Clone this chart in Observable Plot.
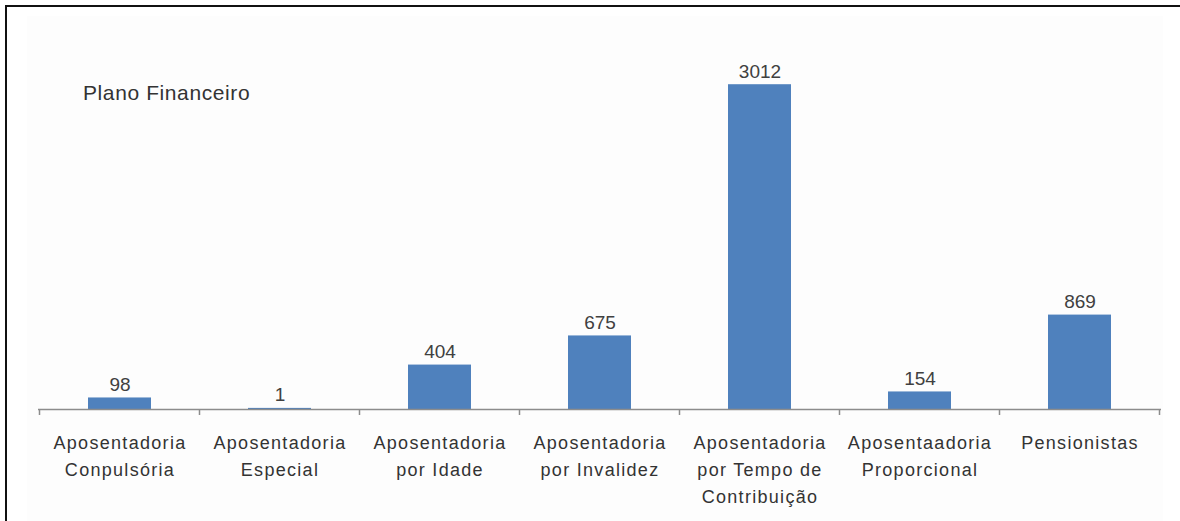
<!DOCTYPE html>
<html><head><meta charset="utf-8">
<script src="https://cdn.jsdelivr.net/npm/d3@7"></script>
<script src="https://cdn.jsdelivr.net/npm/@observablehq/plot@0.6"></script>
<style>
html,body{margin:0;padding:0;background:#fff;}
#wrap{position:relative;width:1180px;height:521px;overflow:hidden;font-family:"Liberation Sans",Arial,sans-serif;}
#panel{position:absolute;left:27px;top:16px;width:1136px;height:505px;background:#fdfdfd;}
#frame{position:absolute;left:5px;top:5px;width:1200px;height:540px;border-left:2px solid #111;border-top:2px solid #111;}
#title{position:absolute;left:83px;top:82px;font-size:21px;line-height:21px;color:#333;letter-spacing:0.6px;white-space:nowrap;}
#chart{position:absolute;left:0;top:0;}
.bars [aria-label="x-axis tick label"] text{letter-spacing:1.3px;}
</style>
</head><body>
<div id="wrap">
  <div id="panel"></div>
  <div id="frame"></div>
  <div id="chart"></div>
  <div id="title">Plano Financeiro</div>
</div>
<script>
const categories = [
  "Aposentadoria\nConpulsória",
  "Aposentadoria\nEspecial",
  "Aposentadoria\npor Idade",
  "Aposentadoria\npor Invalidez",
  "Aposentadoria\npor Tempo de\nContribuição",
  "Aposentaadoria\nProporcional",
  "Pensionistas"
];
const values = [98, 1, 404, 675, 3012, 154, 869];
const data = categories.map((c, i) => ({category: c, value: values[i]}));

function boundaryTicks(index, scales, vals, dimensions) {
  const x = scales.x;
  const domain = x.domain();
  const step = x.step(), bw = x.bandwidth();
  const y0 = dimensions.height - dimensions.marginBottom;
  const g = d3.create("svg:g").attr("stroke", "#8c8c8c").attr("stroke-width", 1.5);
  const edges = domain.map(d => x(d) - (step - bw) / 2);
  edges.push(x(domain[domain.length - 1]) + bw + (step - bw) / 2);
  for (const e of edges) {
    g.append("line").attr("x1", e).attr("x2", e).attr("y1", y0).attr("y2", y0 + 6);
  }
  return g.node();
}

const chart = Plot.plot({
  width: 1180,
  height: 521,
  marginLeft: 38,
  marginRight: 19,
  marginTop: 65,
  marginBottom: 112,
  className: "bars",
  style: {background: "transparent", fontFamily: "'Liberation Sans', Arial, sans-serif", color: "#333", overflow: "visible"},
  x: {domain: categories, paddingInner: 0.607, paddingOuter: 0.3035, label: null},
  y: {domain: [0, 3200], axis: null},
  marks: [
    Plot.barY(data, {x: "category", y: "value", fill: "#4f81bd", insetTop: -1}),
    Plot.ruleY([0], {stroke: "#8c8c8c", strokeWidth: 1.5}),
    boundaryTicks,
    Plot.text(data, {x: "category", y: "value", text: d => String(d.value), lineAnchor: "bottom", dy: -8, fontSize: 19, fill: "#404040"}),
    Plot.axisX({tickSize: 0, tickPadding: 20, fontSize: 18, lineHeight: 1.5, fill: "#333", label: null})
  ]
});
document.getElementById("chart").appendChild(chart);
</script>
</body></html>
